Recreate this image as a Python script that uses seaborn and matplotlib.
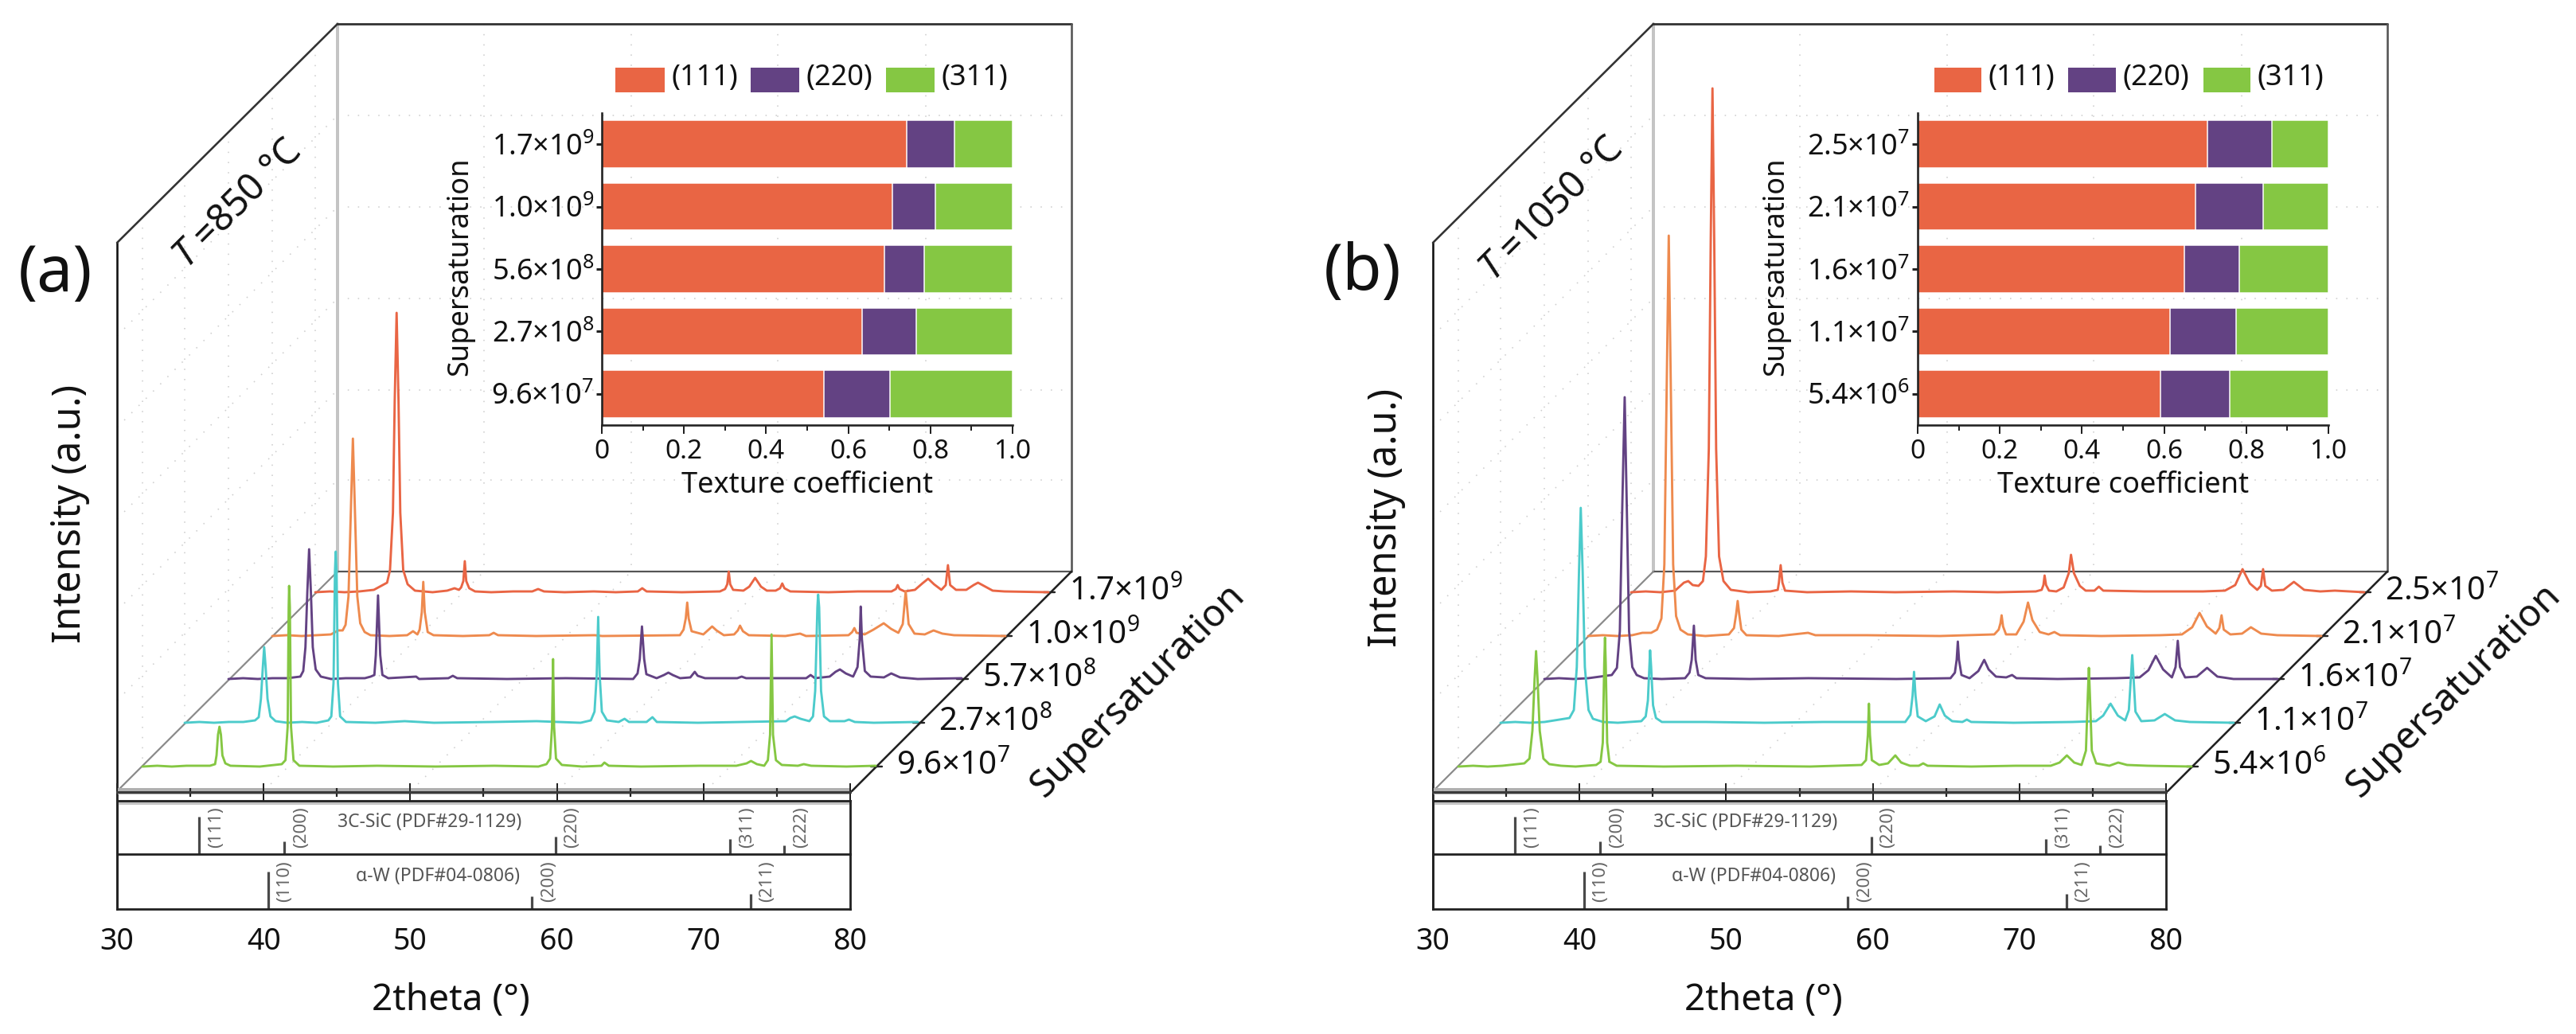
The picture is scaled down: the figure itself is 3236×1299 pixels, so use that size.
#!/usr/bin/env python3
import pandas as pd
import seaborn as sns
import matplotlib
matplotlib.use('Agg')
import matplotlib.pyplot as plt
from matplotlib.patches import Rectangle

W, H = 3237, 1299
RED, ORANGE, PURPLE, CYAN, GREEN = '#E96544', '#EE8A4E', '#634283', '#4CCBCB', '#85C743'

# spectra, (2theta, intensity above the baseline)
a_red = [(30,0),(31,1),(32,0),(33,1),(34,3),(34.5,8),(34.9,12),(35.1,28),(35.3,100),(35.42,240),(35.55,351),(35.68,240),(35.8,100),(36,28),(36.3,10),(36.8,2),
         (38,0),(39,2),(39.5,5),(39.8,3),(39.95,6),(40.1,14),(40.2,39),(40.3,14),(40.5,5),(40.9,1),(42,0),(43.5,1),(44.8,1),(45.2,4),(45.6,1),(47,0),(49,1),(50.5,0),
         (52,1),(52.3,5),(52.6,1),(55,0),(57.6,1),(57.95,4),(58.1,10),(58.2,26),(58.3,10),(58.5,3),(59.2,2),(59.6,7),(60,18),(60.4,7),(60.8,2),(61.4,2),(61.7,5),(61.85,11),(62,5),(62.4,1),
         (65,0),(67,1),(69.3,1),(69.6,4),(69.72,9),(69.85,4),(70.2,1),(70.9,3),(71.4,11),(71.8,17),(72.2,10),(72.7,3),(73,9),(73.15,34),(73.3,9),(73.7,3),(74.4,3),(74.9,9),(75.2,12),(75.6,8),(76.2,2),(77,1),(80,0)]
a_orange = [(30,0),(31,1),(32,0),(33,1),(34,2),(34.5,7),(34.8,7),(35,14),(35.2,50),(35.35,150),(35.5,248),(35.65,150),(35.8,50),(36,16),(36.3,5),(36.7,1),
            (38,0),(39.2,1),(39.6,6),(39.9,2),(40.05,8),(40.2,30),(40.3,68),(40.4,30),(40.6,5),(41,1),(43,0),(44.8,1),(45.1,4),(45.4,1),(48,0),(52,1),(52.5,0),
            (57.8,1),(58.05,8),(58.2,22),(58.3,42),(58.4,22),(58.6,6),(59.4,2),(59.7,7),(60,12),(60.3,7),(60.8,1),(61.5,2),(61.75,7),(61.9,13),(62.1,6),(62.5,1),
            (65,0),(66,3),(66.4,0),(69.3,1),(69.55,5),(69.7,10),(69.85,4),(70.4,2),(71,8),(71.7,16),(72.2,9),(72.7,4),(73,15),(73.2,56),(73.4,15),(73.8,3),(74.5,2),(75.1,7),(75.7,3),(76.5,1),(80,0)]
a_purple = [(30,0),(31,1),(32,0),(33,1),(34,1),(34.9,3),(35.1,10),(35.25,40),(35.38,110),(35.5,163),(35.62,110),(35.75,40),(35.95,12),(36.3,3),(37,0),
            (38,1),(39.3,1),(39.7,3),(39.95,5),(40.05,30),(40.2,105),(40.35,30),(40.5,5),(40.9,1),(42.8,3),(43,0),(45,1),(45.3,4),(45.6,1),(49,0),(53,1),(57.6,0),
            (57.9,7),(58.05,25),(58.2,66),(58.35,25),(58.5,6),(59.2,1),(59.7,5),(60,8),(60.3,5),(60.8,1),(61.5,2),(61.8,9),(62,4),(62.5,1),
            (64.7,1),(65,3),(65.3,1),(69.4,1),(69.7,5),(70,1),(71,3),(71.4,9),(71.7,12),(72.1,7),(72.6,3),(72.9,15),(73.05,50),(73.12,91),(73.2,50),(73.4,10),(73.8,3),(74.7,2),(75.2,7),(75.8,2),(77,0),(80,1)]
a_cyan = [(30,0),(31,1),(32,0),(33,1),(34,1),(34.8,3),(35.05,7),(35.2,30),(35.33,70),(35.42,95),(35.52,70),(35.65,30),(35.85,8),(36.2,2),(37,0),
          (38,1),(39,0),(39.8,3),(40,8),(40.15,50),(40.25,190),(40.3,215),(40.36,190),(40.45,50),(40.6,8),(41,1),(43,0),(45,2),(47,0),(51,1),(54,2),(57,0),
          (57.7,3),(57.95,14),(58.1,60),(58.2,133),(58.3,60),(58.45,14),(58.8,3),(59.6,1),(60,5),(60.3,1),(61.5,1),(61.9,7),(62.2,1),(65,0),(68,1),
          (71,2),(71.3,6),(71.6,8),(72,5),(72.6,2),(72.85,8),(73,40),(73.15,145),(73.2,161),(73.27,145),(73.4,40),(73.6,8),(74,2),(75,2),(75.3,4),(75.7,1),(77,0),(80,1)]
a_green = [(30,0),(31,1),(32,0),(33,1),(34.6,1),(34.95,3),(35.05,14),(35.15,40),(35.25,50),(35.35,40),(35.45,14),(35.65,4),(36,1),(38,0),
           (39.5,3),(39.75,8),(39.9,50),(39.97,200),(40,227),(40.05,200),(40.13,50),(40.3,8),(40.7,1),(43,0),(46,1),(50,0),(54,1),(57,0),
           (57.55,3),(57.8,10),(57.93,50),(58,135),(58.07,50),(58.2,10),(58.6,2),(60,0),(61.3,1),(61.5,5),(61.8,1),(64,0),(68,1),
           (70.5,1),(71.2,4),(71.5,7),(71.9,3),(72.4,1),(72.65,8),(72.8,40),(72.9,166),(73,40),(73.2,8),(73.6,2),(74.7,1),(75.1,3),(75.6,1),(78,0),(80,1)]

b_red = [(30,0),(31,1),(32,0),(33,2),(33.6,12),(33.9,14),(34.2,9),(34.6,8),(34.9,14),(35.1,45),(35.3,180),(35.43,440),(35.55,633),(35.67,440),(35.8,180),(36,45),(36.3,14),(36.8,3),
         (38,0),(39.5,1),(40,3),(40.08,12),(40.2,34),(40.32,12),(40.5,2),(42,0),(45,1),(48,0),(52,1),(55,0),(57.6,1),(58,3),(58.12,9),(58.2,21),(58.3,9),(58.5,2),
         (59,1),(59.5,6),(59.85,24),(60,47),(60.2,24),(60.6,8),(61,2),(61.6,2),(61.9,7),(62.2,2),(65,1),(69,1),(70.5,2),(71.2,9),(71.7,29),(72.2,11),(72.7,3),(72.95,8),(73.1,29),(73.25,8),(73.7,2),(74.5,3),(75.2,13),(75.9,3),(77,1),(78,2),(80,0)]
b_orange = [(30,0),(31,1),(32,0),(33,1),(33.7,4),(34.3,4),(34.7,8),(35,22),(35.2,90),(35.35,300),(35.5,503),(35.65,300),(35.8,90),(36,25),(36.3,8),(36.8,2),
            (38,0),(39.6,2),(39.95,10),(40.1,28),(40.2,44),(40.3,28),(40.45,8),(40.8,1),(43,0),(45,4),(45.5,1),(49,1),(54,0),(57.7,2),(58,8),(58.12,16),(58.2,26),(58.3,12),(58.5,2),
            (59.2,2),(59.7,18),(60,42),(60.3,20),(60.8,5),(61.4,2),(61.8,5),(62.2,1),(65,0),(69,1),(70.5,2),(71.2,11),(71.7,29),(72.2,12),(72.8,3),(73.05,10),(73.2,26),(73.35,8),(73.8,2),(74.6,3),(75.2,11),(75.9,3),(77,1),(80,0)]
b_purple = [(30,0),(31,1),(32,0),(33,1),(34.6,5),(34.95,14),(35.15,60),(35.32,220),(35.48,354),(35.62,220),(35.78,60),(36,15),(36.3,5),(36.8,1),(38,0),
            (39.6,1),(39.9,8),(40.05,24),(40.2,67),(40.32,24),(40.5,5),(41,1),(44,0),(48,1),(54,0),(57.7,1),(58,8),(58.12,24),(58.2,47),(58.28,24),(58.45,5),(59,1),(59.6,10),(60,24),(60.3,12),(60.8,3),(61.5,2),(61.9,5),(62.2,1),
            (65,0),(69,1),(70.6,2),(71.2,11),(71.7,29),(72.2,12),(72.8,2),(73.05,15),(73.2,48),(73.35,15),(73.7,2),(74.5,3),(75.2,14),(75.9,3),(77,0),(80,0)]
b_cyan = [(30,0),(31,1),(32,0),(33,1),(34.7,6),(35,16),(35.2,70),(35.35,190),(35.47,270),(35.6,190),(35.75,70),(36,16),(36.3,5),(37,1),(38,0),
          (39.6,2),(39.9,8),(40.05,28),(40.15,70),(40.2,91),(40.27,70),(40.4,22),(40.6,6),(41,1),(44,1),(48,0),(52,1),(57.6,1),(57.95,10),(58.1,34),(58.2,64),(58.3,34),(58.45,8),(59,2),(59.6,8),(59.95,23),(60.3,9),(60.8,2),(61.5,1),(61.8,4),(62.1,1),
          (65,0),(69,1),(70.6,2),(71.1,9),(71.6,24),(72.1,9),(72.6,3),(72.85,16),(73,60),(73.08,85),(73.16,60),(73.3,14),(73.7,2),(74.6,3),(75.3,11),(76,3),(77,1),(80,0)]
b_green = [(30,0),(31,1),(32,0),(33,1),(34.5,4),(34.85,10),(35.05,45),(35.2,110),(35.3,145),(35.4,110),(35.55,45),(35.8,10),(36.2,3),(37,1),(38,0),
           (39.4,2),(39.7,6),(39.85,30),(39.95,130),(40,162),(40.05,130),(40.15,30),(40.3,6),(40.8,1),(44,0),(49,1),(54,0),(57.5,2),(57.8,8),(57.93,40),(58,79),(58.07,40),(58.2,8),(58.7,2),(59.3,4),(59.8,14),(60.2,5),(60.8,1),(61.4,1),(61.7,4),(62,1),
           (65,0),(68,1),(70.4,1),(71,5),(71.5,14),(72,5),(72.5,2),(72.8,20),(72.93,90),(73,124),(73.07,90),(73.2,20),(73.5,4),(74.4,1),(75,5),(75.6,2),(77,1),(80,0)]

# inset bars
a_sat = ['1.7×10$^{9}$', '1.0×10$^{9}$', '5.6×10$^{8}$', '2.7×10$^{8}$', '9.6×10$^{7}$']
a_111 = [0.743, 0.707, 0.688, 0.634, 0.540]
a_220 = [0.116, 0.105, 0.096, 0.132, 0.162]
a_311 = [0.141, 0.188, 0.216, 0.234, 0.298]
b_sat = ['2.5×10$^{7}$', '2.1×10$^{7}$', '1.6×10$^{7}$', '1.1×10$^{7}$', '5.4×10$^{6}$']
b_111 = [0.705, 0.677, 0.649, 0.614, 0.592]
b_220 = [0.157, 0.164, 0.133, 0.161, 0.168]
b_311 = [0.138, 0.159, 0.218, 0.225, 0.240]

# series labels on the depth axis
a_depth = ['1.7×10$^{9}$', '1.0×10$^{9}$', '5.7×10$^{8}$', '2.7×10$^{8}$', '9.6×10$^{7}$']
b_depth = ['2.5×10$^{7}$', '2.1×10$^{7}$', '1.6×10$^{7}$', '1.1×10$^{7}$', '5.4×10$^{6}$']

# reference patterns
sic_theta = [35.6, 41.4, 59.9, 71.8, 75.5]
sic_height = [100, 34, 47, 40, 23]
sic_hkl = ['(111)', '(200)', '(220)', '(311)', '(222)']
w_theta = [40.3, 58.3, 73.2]
w_height = [100, 33, 40]
w_hkl = ['(110)', '(200)', '(211)']

# layout in picture pixels, panel (a)
X0, X1 = 147, 1068
BACK_X0, BACK_X1 = 424, 1346
TOP, FLOOR_BACK, FLOOR_FRONT = 30, 718, 994
LEFT_TOP = 305
BOX_TOP, BOX_MID, BOX_BOT = 1006, 1073, 1142
S_LEFT = [396, 342, 287, 232, 179]
S_BASE = [744, 799, 853, 908, 963]
DX_B = 1653


def px_axes(fig, left, top, right, bottom, **kw):
    return fig.add_axes([left / W, 1 - bottom / H, (right - left) / W, (bottom - top) / H], **kw)


def px(n):
    # line widths are given in picture pixels
    return n * 72 / 100


def draw_walls(ax, dx):
    ax.plot([BACK_X0 + dx] * 2, [TOP, FLOOR_BACK], color='#c4c4c4', lw=px(4), zorder=1)
    ax.plot([X0 + dx, X0 + dx], [LEFT_TOP, BOX_BOT], color='#111111', lw=px(2.6), zorder=2)
    ax.plot([X0 + dx, BACK_X0 + dx], [LEFT_TOP, TOP], color='#333333', lw=px(2.6), zorder=2)
    ax.plot([BACK_X0 + dx, BACK_X1 + dx], [TOP, TOP], color='#333333', lw=px(2.8), zorder=2)
    ax.plot([BACK_X1 + dx] * 2, [TOP, FLOOR_BACK], color='#555555', lw=px(2.6), zorder=2)
    ax.plot([BACK_X0 + dx, BACK_X1 + dx], [FLOOR_BACK] * 2, color='#555555', lw=px(2.2), zorder=2)
    ax.plot([X0 + dx, BACK_X0 + dx], [FLOOR_FRONT, FLOOR_BACK], color='#8a8a8a', lw=px(2.2), zorder=2)
    ax.plot([X1 + dx + 2, BACK_X1 + dx], [FLOOR_FRONT, FLOOR_BACK], color='#222222', lw=px(2.6), zorder=2)
    # soft grey bands that sit along the front axis and the top of the boxes
    ax.plot([X0 + dx, X1 + dx], [FLOOR_FRONT, FLOOR_FRONT], color='#b0b0b0', lw=px(8), zorder=2, solid_capstyle='butt')
    ax.plot([X0 + dx, X1 + dx], [BOX_TOP + 3, BOX_TOP + 3], color='#c4c4c4', lw=px(4), zorder=2, solid_capstyle='butt')
    for left, base in zip(S_LEFT, S_BASE):
        end = left + (X1 - X0) + dx
        ax.plot([end - 6, end + 8], [base, base], color='#222222', lw=px(2.4), zorder=2)


def draw_grid(ax, dx):
    dots = dict(color='#cfcfcf', lw=px(1.6), ls=(0, (1, 7)), zorder=1)
    for y in [145, 260, 375, 490, 603]:
        ax.plot([BACK_X0 + dx, BACK_X1 + dx], [y, y], **dots)
        ax.plot([X0 + dx, BACK_X0 + dx], [y + 277, y], **dots)
    for x in [608, 793, 977, 1163]:
        ax.plot([x + dx, x + dx], [TOP, FLOOR_BACK], **dots)
        ax.plot([x - 277 + dx, x + dx], [FLOOR_FRONT, FLOOR_BACK], **dots)
    for x in S_LEFT:
        ax.plot([x + dx, x + dx], [LEFT_TOP - (x - X0), FLOOR_FRONT - (x - X0)], **dots)


def draw_series(fig, series, colors, dx):
    for i, (points, color) in enumerate(zip(series, colors)):
        left = S_LEFT[i] + dx
        ax = px_axes(fig, left, 0, left + X1 - X0, S_BASE[i], zorder=3 + i)
        ax.patch.set_alpha(0)
        df = pd.DataFrame(points, columns=['two_theta', 'intensity'])
        sns.lineplot(data=df, x='two_theta', y='intensity', color=color, lw=px(2.9),
                     sort=False, estimator=None, errorbar=None, ax=ax, clip_on=False)
        ax.set_xlim(30, 80)
        ax.set_ylim(0, S_BASE[i])
        ax.axis('off')


def draw_reference(fig, dx):
    # the front axis of the 3D floor
    floor = px_axes(fig, X0 + dx, FLOOR_FRONT, X1 + dx, FLOOR_FRONT + 1, zorder=9)
    floor.patch.set_alpha(0)
    sns.despine(ax=floor, left=True, top=True, right=True)
    floor.spines['bottom'].set_linewidth(px(3))
    floor.spines['bottom'].set_color('#3a3a3a')
    floor.set_xlim(30, 80)
    floor.set_yticks([])
    floor.set_xticks([30, 40, 50, 60, 70, 80])
    floor.set_xticks([35, 45, 55, 65, 75], minor=True)
    floor.tick_params(axis='x', which='major', direction='inout', length=px(22), width=px(2), labelbottom=False, bottom=True)
    floor.tick_params(axis='x', which='minor', direction='inout', length=px(11), width=px(2.2), bottom=True)

    boxes = [(BOX_TOP, BOX_MID, sic_theta, sic_height, sic_hkl, '3C-SiC (PDF#29-1129)', 51.3),
             (BOX_MID, BOX_BOT, w_theta, w_height, w_hkl, 'α-W (PDF#04-0806)', 51.9)]
    for k, (top, bot, theta, height, hkl, name, name_x) in enumerate(boxes):
        ax = px_axes(fig, X0 + dx, top, X1 + dx, bot, zorder=10)
        ax.patch.set_alpha(0)
        ymax = 100 * (bot - top) / 47
        ax.vlines(theta, 0, height, color='#4a4a4a', lw=px(3.2))
        for t, lab in zip(theta, hkl):
            ax.text(t + 1.15, 0.5 * ymax, lab, rotation=90, ha='center', va='center', fontsize=16, color='#666666')
        ax.text(name_x, 0.6 * ymax, name, ha='center', va='center', fontsize=16.5, color='#555555')
        ax.set_xlim(30, 80)
        ax.set_ylim(0, ymax)
        ax.set_yticks([])
        for side in ax.spines.values():
            side.set_linewidth(px(2.8))
            side.set_color('#222222')
        if k == 0:
            ax.set_xticks([])
        else:
            ax.spines['top'].set_visible(False)
            ax.set_xticks([30, 40, 50, 60, 70, 80])
            ax.set_xticks([35, 45, 55, 65, 75], minor=True)
            ax.tick_params(axis='x', which='major', length=px(13), width=px(2), labelsize=27, pad=px(9), color='#222222')
            ax.tick_params(axis='x', which='minor', length=px(8), width=px(2.2), color='#444444')


def draw_inset(fig, labels, v111, v220, v311, dx):
    ax = px_axes(fig, 756 + dx, 142, 1272 + dx, 534, zorder=12)
    ax.patch.set_alpha(0)
    df = pd.DataFrame({'sat': labels, 'p111': v111, 'p220': v220, 'p311': v311})
    df['upto_220'] = df['p111'] + df['p220']
    df['upto_311'] = df['upto_220'] + df['p311']
    for col, color in [('upto_311', GREEN), ('upto_220', PURPLE), ('p111', RED)]:
        sns.barplot(data=df, y='sat', x=col, color=color, width=0.76, saturation=1,
                    orient='h', edgecolor='white', linewidth=px(1.5), ax=ax)
    ax.set_xlim(0, 1.0)
    ax.set_ylim(4.5, -0.5)
    ax.set_xticks([0, 0.2, 0.4, 0.6, 0.8, 1.0], ['0', '0.2', '0.4', '0.6', '0.8', '1.0'])
    ax.set_xticks([0.1, 0.3, 0.5, 0.7, 0.9], minor=True)
    ax.tick_params(axis='x', which='major', length=px(11), width=px(2), labelsize=24, pad=px(6), bottom=True)
    ax.tick_params(axis='x', which='minor', length=px(7), width=px(2), bottom=True)
    ax.tick_params(axis='y', length=px(7), width=px(3), labelsize=26, pad=px(3), left=True)
    ax.set_xlabel('Texture coefficient', fontsize=26, labelpad=px(8))
    ax.set_ylabel('')
    sns.despine(ax=ax)
    for side in ['left', 'bottom']:
        ax.spines[side].set_linewidth(px(2.6))
        ax.spines[side].set_color('#222222')


def draw_text(ax, tag, temp, depth, tag_xy, int_y, temp_xy, legend_x, dx):
    ax.text(*tag_xy, tag, fontsize=58, ha='center', va='center', zorder=20)
    ax.text(88 + dx, int_y, 'Intensity (a.u.)', rotation=90, fontsize=35, ha='center', va='center', zorder=20)
    ax.text(*temp_xy, temp, rotation=45, rotation_mode='anchor', fontsize=34, ha='center', va='center', zorder=20)
    ax.text(1430 + dx, 868, 'Supersaturation', rotation=45, rotation_mode='anchor', fontsize=34, ha='center', va='center', zorder=20)
    ax.text(578 + dx, 335, 'Supersaturation', rotation=90, fontsize=26, ha='center', va='center', zorder=20)
    ax.text(566 + dx - 4 * (dx > 0), 1257, '2theta (°)', fontsize=33, ha='center', va='center', zorder=20)
    for lab, left, base in zip(depth, S_LEFT, S_BASE):
        ax.text(left + X1 - X0 + dx + 26, base, lab, fontsize=29, ha='left', va='center', zorder=20)
    for (x0, x1), color, lab in zip(legend_x, [RED, PURPLE, GREEN], ['(111)', '(220)', '(311)']):
        ax.add_patch(Rectangle((x0, 85), x1 - x0, 31, color=color, lw=0, zorder=20))
        ax.text(x1 + 9, 98, lab, fontsize=26, ha='left', va='center', zorder=20)


def main():
    sns.set_theme(style='white')
    plt.rcParams['font.family'] = ['Noto Sans', 'DejaVu Sans']
    plt.rcParams['mathtext.fontset'] = 'custom'
    plt.rcParams['mathtext.rm'] = 'Noto Sans'
    plt.rcParams['mathtext.it'] = 'Noto Sans:italic'
    plt.rcParams['mathtext.default'] = 'regular'
    plt.rcParams['text.color'] = '#111111'
    plt.rcParams['axes.labelcolor'] = '#111111'
    plt.rcParams['xtick.color'] = '#222222'
    plt.rcParams['ytick.color'] = '#222222'
    plt.rcParams['xtick.labelcolor'] = '#111111'
    plt.rcParams['ytick.labelcolor'] = '#111111'

    fig = plt.figure(figsize=(W / 100, H / 100), dpi=100)
    back = px_axes(fig, 0, 0, W, H, zorder=0)
    back.set_xlim(0, W)
    back.set_ylim(H, 0)
    back.axis('off')

    colors = [RED, ORANGE, PURPLE, CYAN, GREEN]
    panels = [(0, [a_red, a_orange, a_purple, a_cyan, a_green], a_sat, a_111, a_220, a_311),
              (DX_B, [b_red, b_orange, b_purple, b_cyan, b_green], b_sat, b_111, b_220, b_311)]
    for dx, series, sat, v111, v220, v311 in panels:
        draw_grid(back, dx)
        draw_walls(back, dx)
        draw_series(fig, series, colors, dx)
        draw_reference(fig, dx)
        draw_inset(fig, sat, v111, v220, v311, dx)

    front = px_axes(fig, 0, 0, W, H, zorder=20)
    front.patch.set_alpha(0)
    front.set_xlim(0, W)
    front.set_ylim(H, 0)
    front.axis('off')
    draw_text(front, '(a)', r'$\mathit{T}$ =850 °C', a_depth, (70, 345), 645, (299, 257),
              [(773, 835), (943, 1004), (1113, 1174)], 0)
    draw_text(front, '(b)', r'$\mathit{T}$ =1050 °C', b_depth, (1712, 343), 650, (1949, 263),
              [(2430, 2489), (2598, 2658), (2768, 2827)], DX_B)

    fig.savefig('out.png', dpi=100)


if __name__ == '__main__':
    main()
